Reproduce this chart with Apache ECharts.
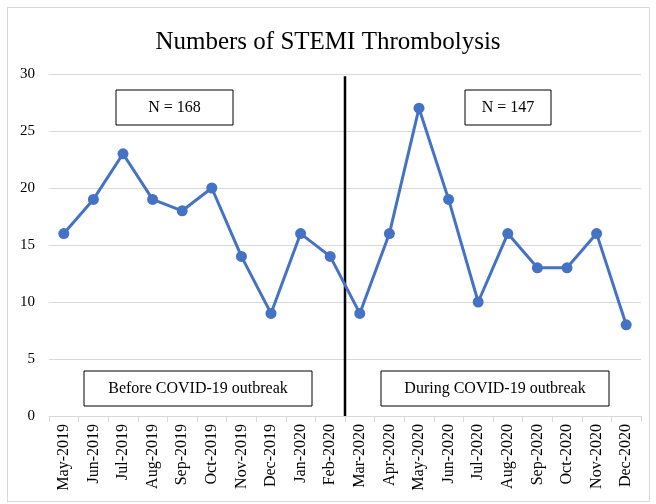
<!DOCTYPE html>
<html>
<head>
<meta charset="utf-8">
<script src="https://cdn.jsdelivr.net/npm/echarts@6/dist/echarts.min.js"></script>
<style>
    html, body { margin: 0; padding: 0; background: #fff; }
    #frame { position: absolute; left: 7px; top: 7px; width: 643px; height: 495px; border: 1px solid #d9d9d9; box-sizing: border-box; }
    #main { position: absolute; left: 0; top: 0; width: 656px; height: 504px; }
</style>
</head>
<body>
<div id="frame"></div>
<div id="main"></div>
<script>
    const months = ['May-2019', 'Jun-2019', 'Jul-2019', 'Aug-2019', 'Sep-2019', 'Oct-2019', 'Nov-2019', 'Dec-2019', 'Jan-2020', 'Feb-2020',
        'Mar-2020', 'Apr-2020', 'May-2020', 'Jun-2020', 'Jul-2020', 'Aug-2020', 'Sep-2020', 'Oct-2020', 'Nov-2020', 'Dec-2020'];
    const counts = [16, 19, 23, 19, 18, 20, 14, 9, 16, 14,
        9, 16, 27, 19, 10, 16, 13, 13, 16, 8];
    const yTicks = [0, 5, 10, 15, 20, 25, 30];

    const serif = '"Liberation Serif", "DejaVu Serif", serif';
    const chart = echarts.init(document.getElementById('main'));

    chart.setOption({
        animation: false,
        title: {
            text: 'Numbers of STEMI Thrombolysis',
            left: 'center',
            top: 25,
            textStyle: { fontFamily: serif, fontSize: 25, fontWeight: 'normal', color: '#000' }
        },
        grid: { left: 49, right: 15, top: 74, bottom: 88 },
        xAxis: {
            type: 'category',
            data: months,
            boundaryGap: true,
            axisLine: { lineStyle: { color: '#d9d9d9', width: 1 } },
            axisTick: { show: true, length: 6, lineStyle: { color: '#d9d9d9' } },
            axisLabel: { rotate: 90, interval: 0, margin: 8, fontFamily: serif, fontSize: 16, color: '#000' }
        },
        yAxis: {
            type: 'value',
            min: yTicks[0],
            max: yTicks[yTicks.length - 1],
            interval: 5,
            axisLine: { show: false },
            axisTick: { show: false },
            axisLabel: { margin: 14, fontFamily: serif, fontSize: 15, color: '#000' },
            splitLine: { lineStyle: { color: '#d9d9d9', width: 1 } }
        },
        series: [{
            type: 'line',
            data: counts,
            symbol: 'circle',
            symbolSize: 11,
            lineStyle: { color: '#4472c4', width: 3 },
            itemStyle: { color: '#4472c4' }
        }]
    });

    // annotations: divider between periods and text boxes
    const a = chart.convertToPixel({ xAxisIndex: 0 }, 9);
    const b = chart.convertToPixel({ xAxisIndex: 0 }, 10);
    const xDiv = Math.round((a + b) / 2);
    const yTop = chart.convertToPixel({ yAxisIndex: 0 }, 29.8);
    const yBot = chart.convertToPixel({ yAxisIndex: 0 }, 0);

    function box(x, y, w, h, label) {
        return {
            type: 'group',
            x: x, y: y,
            children: [
                { type: 'rect', shape: { x: 0, y: 0, width: w, height: h }, style: { fill: '#fff', stroke: '#000', lineWidth: 1 } },
                { type: 'text', x: w / 2, y: h / 2, style: { text: label, fill: '#000', font: '16px ' + serif, align: 'center', verticalAlign: 'middle' } }
            ]
        };
    }

    chart.setOption({
        graphic: [
            { type: 'line', shape: { x1: xDiv, y1: yTop, x2: xDiv, y2: yBot }, style: { stroke: '#000', lineWidth: 2.5 } },
            box(116, 90, 117, 35, 'N = 168'),
            box(465, 90, 86, 35, 'N = 147'),
            box(84, 371, 228, 35, 'Before COVID-19 outbreak'),
            box(381, 371, 228, 35, 'During COVID-19 outbreak')
        ]
    });
</script>
</body>
</html>
